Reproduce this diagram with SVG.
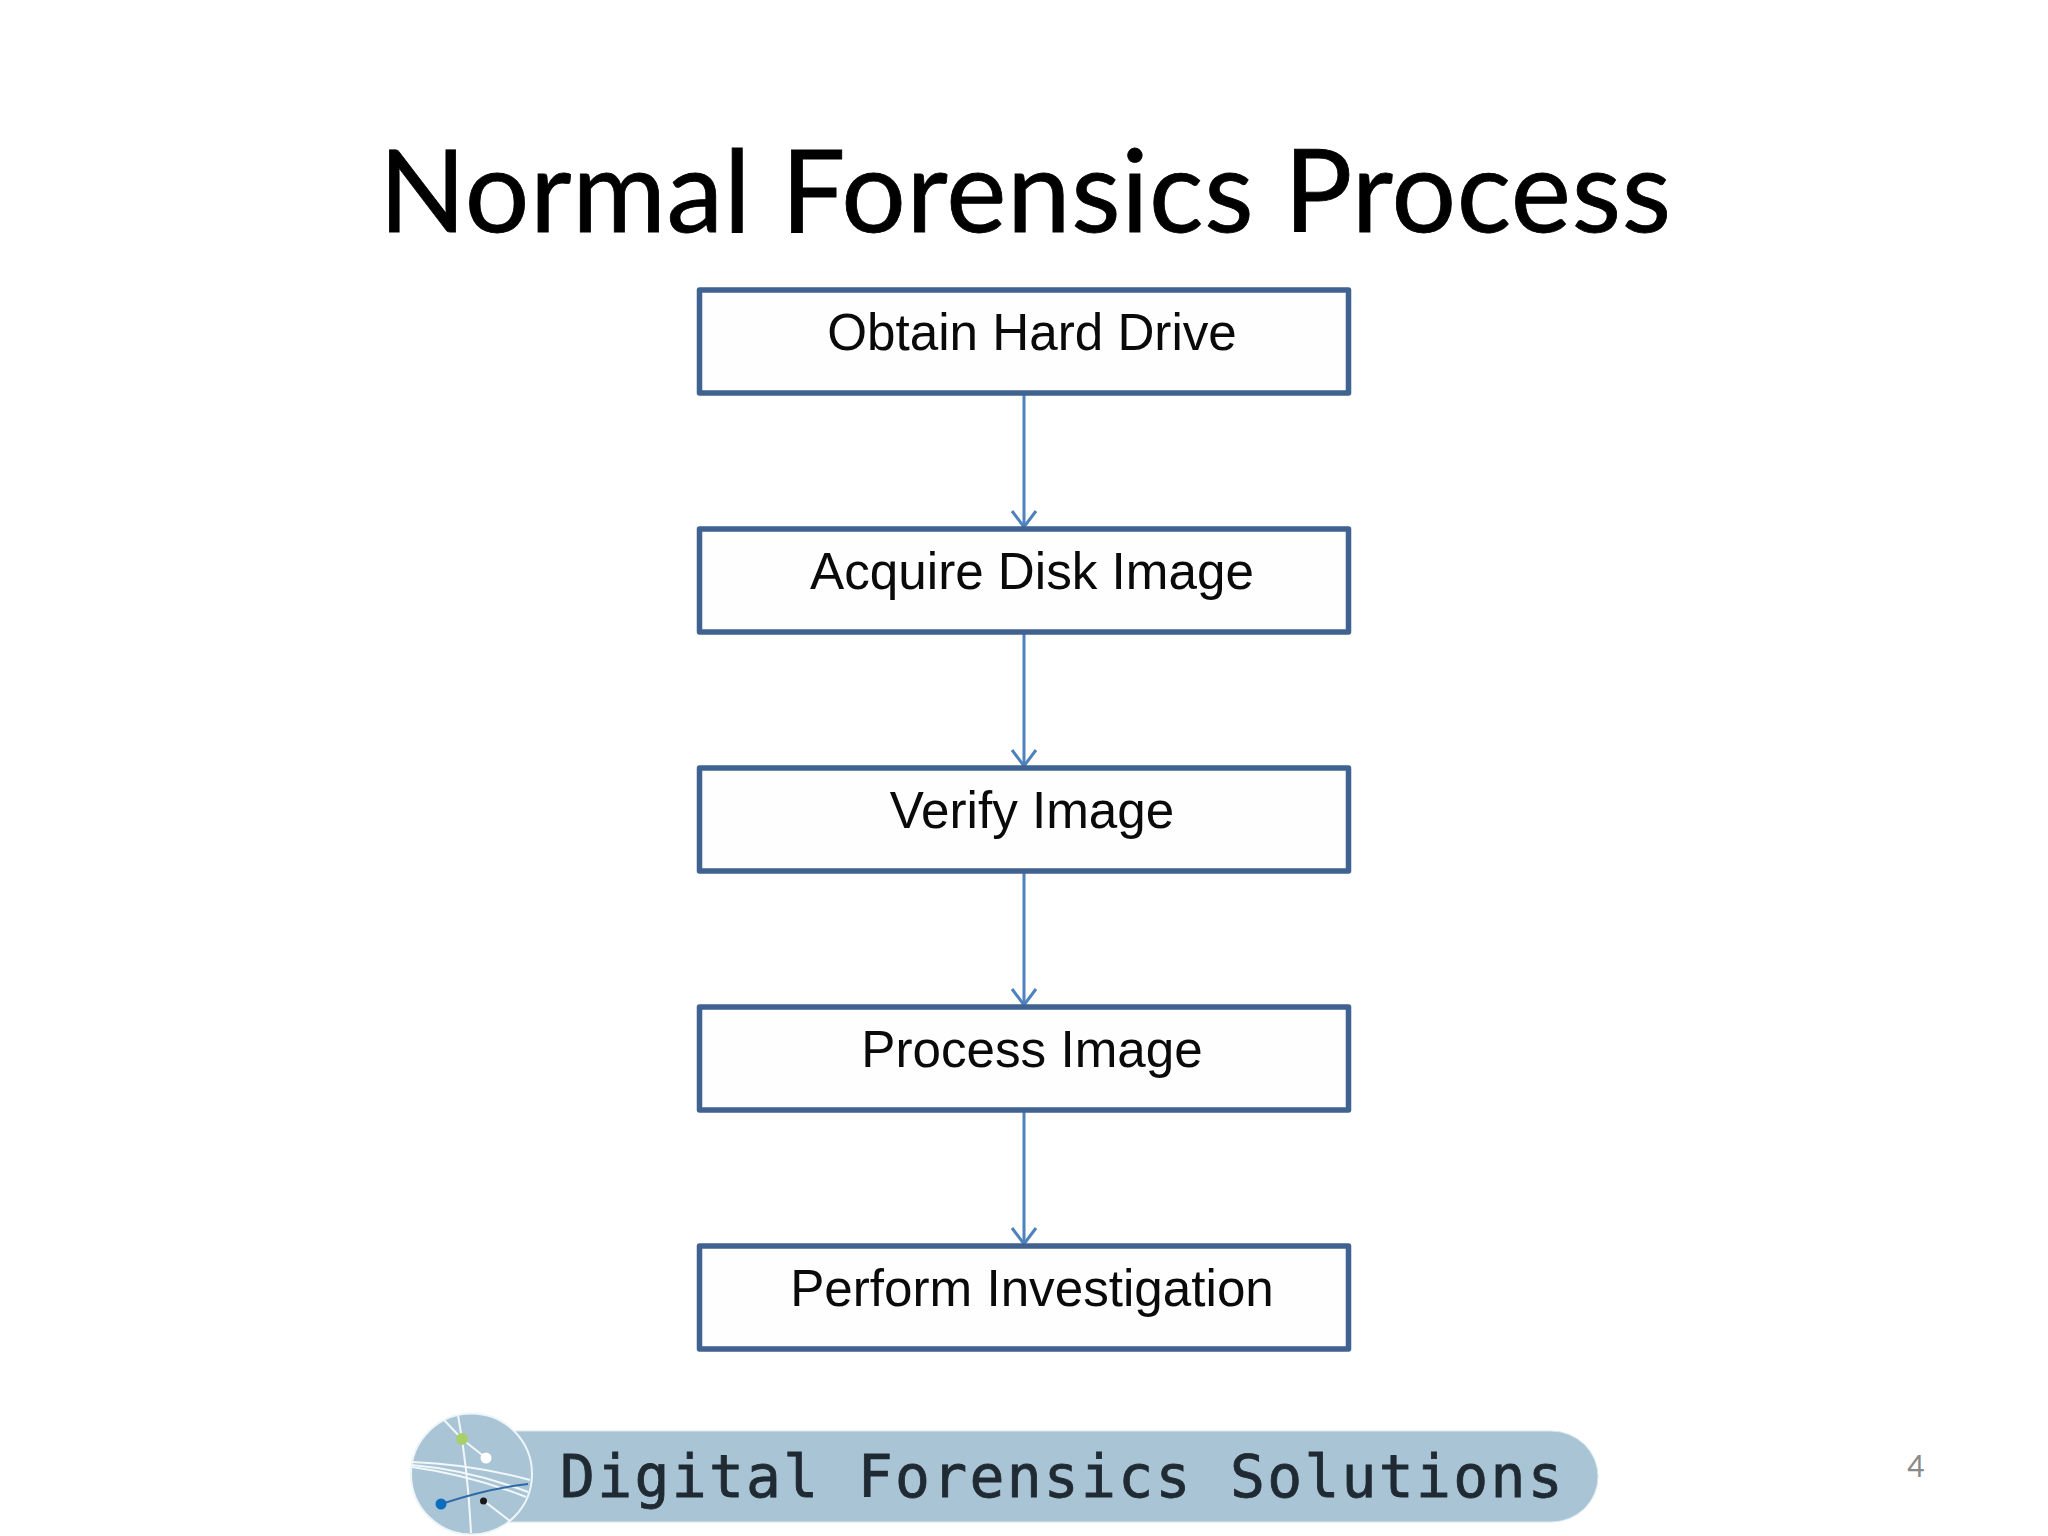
<svg xmlns="http://www.w3.org/2000/svg" width="2048" height="1536" viewBox="0 0 2048 1536">
<style>
.box{fill:#fefefe;stroke:#3f6290;stroke-width:5.500;stroke-linejoin:round}
.lbl{font-family:"Liberation Sans",Arial,sans-serif;font-size:51.200px;fill:#0a0a0a;text-anchor:middle}
.conn{fill:none;stroke:#4f81bd;stroke-width:3}
.w{fill:none;stroke:#f2f7fa;stroke-width:2}
</style>
<defs>
<marker id="arr" markerUnits="userSpaceOnUse" markerWidth="30" markerHeight="24" refX="15" refY="12" orient="auto" overflow="visible">
<path d="M-1 0 L15 12 L-1 24" fill="none" stroke="#4f81bd" stroke-width="3"/>
</marker>
</defs>
<rect width="2048" height="1536" fill="#ffffff"/>
<text id="title" x="1025" y="232" font-family="Lato,'Open Sans',sans-serif" font-size="114px" fill="#000" stroke="#000" stroke-width="0.800" text-anchor="middle" textLength="1292">Normal Forensics Process</text>
<g id="connectors">
<path class="conn" d="M1024 394 V527" marker-end="url(#arr)"/>
<path class="conn" d="M1024 634 V766" marker-end="url(#arr)"/>
<path class="conn" d="M1024 873 V1005" marker-end="url(#arr)"/>
<path class="conn" d="M1024 1112 V1244" marker-end="url(#arr)"/>
</g>
<g id="node1"><rect class="box" x="699.500" y="290" width="649" height="103"/><text class="lbl" x="1032" y="350">Obtain Hard Drive</text></g>
<g id="node2"><rect class="box" x="699.500" y="529" width="649" height="103"/><text class="lbl" x="1032" y="589">Acquire Disk Image</text></g>
<g id="node3"><rect class="box" x="699.500" y="768" width="649" height="103"/><text class="lbl" x="1032" y="828">Verify Image</text></g>
<g id="node4"><rect class="box" x="699.500" y="1007" width="649" height="103"/><text class="lbl" x="1032" y="1067">Process Image</text></g>
<g id="node5"><rect class="box" x="699.500" y="1246" width="649" height="103"/><text class="lbl" x="1032" y="1306">Perform Investigation</text></g>
<g id="logo">
<path d="M472 1431 H1551 A47 45.500 0 0 1 1551 1522 H472 Z" fill="#a9c4d4" stroke="#d8e8ee" stroke-width="1"/>
<circle cx="471.500" cy="1474" r="60.500" fill="#a9c4d4" stroke="#eef5f8" stroke-width="2"/>
<path class="w" d="M444 1420 L462 1439 L486 1458"/>
<path class="w" d="M458 1415 Q468 1470 471 1533"/>
<path class="w" d="M412 1462 Q470 1464 530 1480"/>
<path class="w" d="M412 1465 Q470 1470 528 1492"/>
<path class="w" d="M412 1467 Q470 1475 526 1497"/>
<path class="w" d="M484 1501 L510 1521"/>
<path d="M441 1504 Q490 1488 528 1484" fill="none" stroke="#2d6aa8" stroke-width="2"/>
<circle cx="462" cy="1439" r="6" fill="#a9cf6a"/>
<circle cx="486" cy="1458" r="5.500" fill="#fff"/>
<circle cx="441" cy="1504" r="5.500" fill="#0a6dbd"/>
<circle cx="483.500" cy="1501" r="3.500" fill="#1a1a1a"/>
<text x="560" y="1497" font-family="'DejaVu Sans Mono',monospace" font-size="58px" letter-spacing="2.300" fill="#1f2a33" stroke="#1f2a33" stroke-width="0.800">Digital Forensics Solutions</text>
</g>
<text id="page" x="1916" y="1477" font-family="Lato,sans-serif" font-size="30px" fill="#8a8a8a" text-anchor="middle">4</text>
</svg>
